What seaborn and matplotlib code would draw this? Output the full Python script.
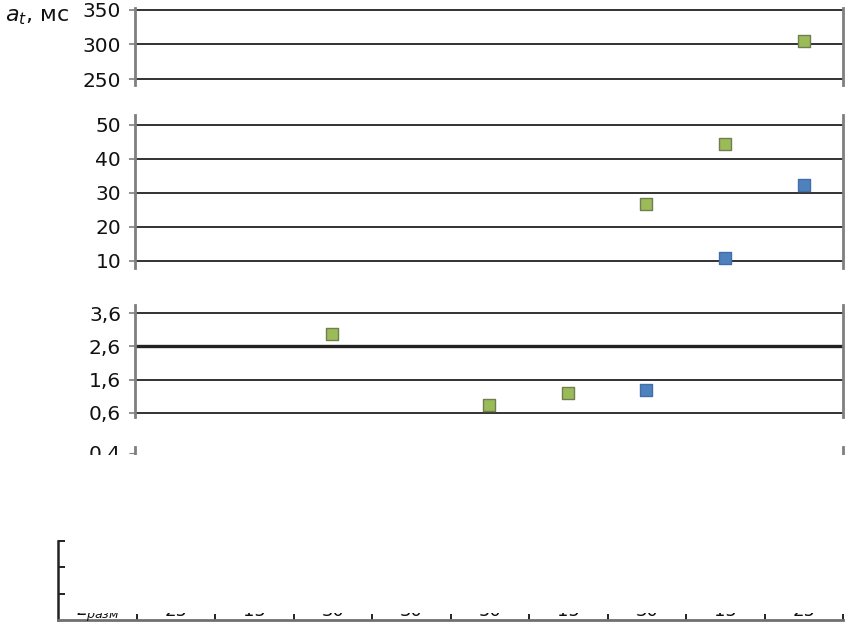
import numpy as np
import pandas as pd
import matplotlib
matplotlib.use("Agg")
import matplotlib.pyplot as plt
from matplotlib.patches import Rectangle
import seaborn as sns

# data
lengths = ["25", "15", "30", "30", "50", "15", "30", "15", "25"]
green_vals = [np.nan, np.nan, 2.96, np.nan, 0.84, 1.2, 26.8, 44.4, 304]
blue_vals = [np.nan, np.nan, np.nan, np.nan, np.nan, np.nan, 1.29, 10.9, 32.4]

pos = np.arange(len(lengths))
df = pd.concat([
    pd.DataFrame({"pos": pos, "a_t": green_vals, "series": "green"}),
    pd.DataFrame({"pos": pos, "a_t": blue_vals, "series": "blue"}),
]).dropna()

fill = {"green": "#9BBB59", "blue": "#4F81BD"}
edge = {"green": "#717F50", "blue": "#3F6FAA"}

sns.set_style("white")
plt.rcParams["font.family"] = ["DejaVu Sans"]

W, H = 849, 626
fig = plt.figure(figsize=(W / 100, H / 100), dpi=100)


def px_rect(x0, y0, x1, y1):
    return [x0 / W, (H - y1) / H, (x1 - x0) / W, (y1 - y0) / H]


# broken y axis: three panels + a cut-off fourth one
panels = [
    (px_rect(135, 8, 843, 85), (241.4, 352.2), [250, 300, 350], ["250", "300", "350"]),
    (px_rect(135, 115, 843, 268), (7.94, 52.94), [10, 20, 30, 40, 50], ["10", "20", "30", "40", "50"]),
    (px_rect(135, 305, 843, 417), (0.48, 3.84), [0.6, 1.6, 2.6, 3.6], ["0,6", "1,6", "2,6", "3,6"]),
]

for rect, ylim, ticks, labels in panels:
    ax = fig.add_axes(rect)
    for s in ["green", "blue"]:
        sub = df[df.series == s]
        sns.scatterplot(data=sub, x="pos", y="a_t", ax=ax, marker="s", s=78,
                        color=fill[s], edgecolor=edge[s], linewidth=1.0,
                        legend=False, zorder=3)
    ax.set_xlim(-0.5, 8.5)
    ax.set_ylim(*ylim)
    ax.set_yticks(ticks)
    ax.set_yticklabels(labels, fontsize=14.5, color="#111111")
    ax.set_xticks([])
    ax.set_xlabel("")
    ax.set_ylabel("")
    ax.grid(axis="y", color="#222222", linewidth=1.3)
    ax.grid(axis="x", visible=False)
    ax.tick_params(axis="y", direction="out", length=4, width=1.2,
                   color="#7f7f7f", pad=6, left=True)
    for side in ["top", "bottom"]:
        ax.spines[side].set_visible(False)
    for side in ["left", "right"]:
        ax.spines[side].set_color("#7f7f7f")
        ax.spines[side].set_linewidth(2)
    if "2,6" in labels:
        ax.yaxis.get_gridlines()[labels.index("2,6")].set_linewidth(2.4)

# cut-off panel showing only the top of "0,4"
ax4 = fig.add_axes(px_rect(135, 447, 843, 455))
ax4.set_xlim(-0.5, 8.5)
ax4.set_ylim(0.375, 0.475)
ax4.set_yticks([0.4])
ax4.set_yticklabels(["0,4"], fontsize=14.5, color="#111111")
ax4.set_xticks([])
ax4.tick_params(axis="y", direction="out", length=4, color="#7f7f7f", pad=6, left=True)
for side in ["top", "bottom"]:
    ax4.spines[side].set_visible(False)
for side in ["left", "right"]:
    ax4.spines[side].set_color("#7f7f7f")
    ax4.spines[side].set_linewidth(2)

# bottom table strip (mostly hidden)
ax5 = fig.add_axes(px_rect(58, 541, 843, 620))
ax5.set_xlim(-1.5, 8.5)
ax5.set_ylim(0, 3)
ax5.set_xticks(np.arange(-0.5, 9, 1))
ax5.set_xticklabels([])
ax5.set_yticks([1, 2, 3])
ax5.set_yticklabels([])
ax5.tick_params(axis="x", direction="in", length=4.5, width=1.3, color="#111111", bottom=True)
ax5.tick_params(axis="y", direction="in", length=5, width=1.3, color="#111111", left=True)
for side in ["top", "right"]:
    ax5.spines[side].set_visible(False)
ax5.spines["left"].set_color("#222222")
ax5.spines["left"].set_linewidth(1.8)
ax5.spines["bottom"].set_color("#707070")
ax5.spines["bottom"].set_linewidth(2)
for p, lab in zip(pos, lengths):
    ax5.text(p, 0.16, lab, ha="center", va="baseline", fontsize=13, color="#111111")
ax5.text(-1, 0.16, r"$L_{разм}$", ha="center", va="baseline", fontsize=13, color="#111111")

# white bands that hide the cut parts of the original picture
fig.add_artist(Rectangle((0, (H - 530) / H), 1, 75 / H, transform=fig.transFigure,
                         facecolor="white", edgecolor="none", zorder=10))
fig.add_artist(Rectangle((68 / W, (H - 613) / H), 1, 65 / H, transform=fig.transFigure,
                         facecolor="white", edgecolor="none", zorder=10))

fig.text(5 / W, 1 - 17 / H, r"$a_t$, мс", fontsize=16, va="center", ha="left", color="#111111")

fig.savefig("out.png", dpi=100, facecolor="white")
